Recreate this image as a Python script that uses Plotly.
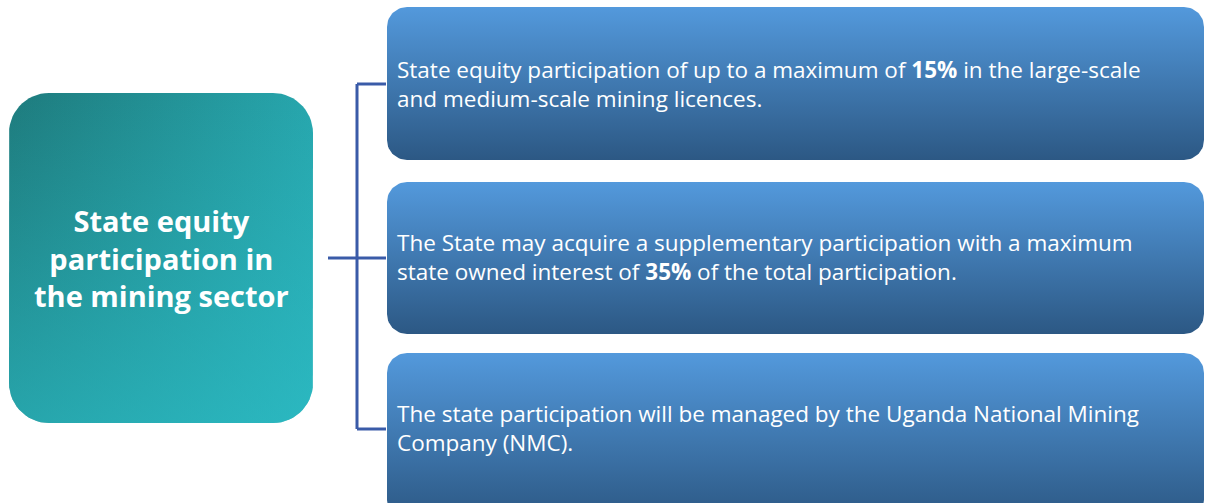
import numpy as np
import plotly.graph_objects as go

# diagram content
title_lines = ["State equity", "participation in", "the mining sector"]
statements = [
    ["State equity participation of up to a maximum of <b>15%</b> in the large-scale",
     "and medium-scale mining licences."],
    ["The State may acquire a supplementary participation with a maximum",
     "state owned interest of <b>35%</b> of the total participation."],
    ["The state participation will be managed by the Uganda National Mining",
     "Company (NMC)."],
]
# right-hand boxes: top / bottom in pixels, and text block centres
box_tops = [7, 182, 353]
box_bottoms = [160, 334, 520]
text_centers = [84, 257, 428]

W, H = 1205, 503


def rounded_rect(x0, y0, x1, y1, r, n=16):
    """Closed outline of a rounded rectangle (y grows downward)."""
    pts = []
    corners = [(x1 - r, y0 + r, -90, 0), (x1 - r, y1 - r, 0, 90),
               (x0 + r, y1 - r, 90, 180), (x0 + r, y0 + r, 180, 270)]
    for cx, cy, a0, a1 in corners:
        t = np.radians(np.linspace(a0, a1, n))
        pts += list(zip(cx + r * np.cos(t), cy + r * np.sin(t)))
    pts.append(pts[0])
    xs, ys = zip(*pts)
    return list(xs), list(ys)


fig = go.Figure()

# left box: diagonal teal gradient = horizontal base + vertical overlay
lx, ly = rounded_rect(9, 93, 313, 423, 40)
fig.add_trace(go.Scatter(
    x=lx, y=ly, fill="toself", mode="lines", line=dict(width=0),
    fillgradient=dict(type="horizontal",
                      colorscale=[[0, "#1e7b7d"], [1, "#27a6ad"]]),
    hoverinfo="skip", showlegend=False,
))
fig.add_trace(go.Scatter(
    x=lx, y=ly, fill="toself", mode="lines", line=dict(width=0),
    fillgradient=dict(type="vertical",
                      colorscale=[[0, "rgba(46,199,209,0.55)"], [1, "rgba(46,199,209,0)"]]),
    hoverinfo="skip", showlegend=False,
))

# right boxes: vertical blue gradient (light at the top)
for top, bottom in zip(box_tops, box_bottoms):
    bx, by = rounded_rect(387, top, 1204, bottom, 20)
    fig.add_trace(go.Scatter(
        x=bx, y=by, fill="toself", mode="lines", line=dict(width=0),
        fillgradient=dict(type="vertical",
                          colorscale=[[0, "#2c5884"], [1, "#5399dc"]]),
        hoverinfo="skip", showlegend=False,
    ))

# bracket connector
conn = dict(color="#3a5ba8", width=3)
mid_y = 258
tick_ys = [84, mid_y, 429]
fig.add_shape(type="line", x0=328, x1=357, y0=mid_y, y1=mid_y, line=conn)
fig.add_shape(type="line", x0=357, x1=357, y0=tick_ys[0], y1=tick_ys[-1], line=conn)
for ty in tick_ys:
    fig.add_shape(type="line", x0=357, x1=386, y0=ty, y1=ty, line=conn)

# title text
fig.add_annotation(
    x=161, y=258, xref="x", yref="y", showarrow=False, yanchor="middle",
    text="<b>" + "<br>".join(title_lines) + "</b>", align="center",
    font=dict(family="Open Sans", size=29, color="white"),
)

# statement text
for lines, cy in zip(statements, text_centers):
    fig.add_annotation(
        x=395, y=cy, xref="x", yref="y", xanchor="left", yanchor="middle",
        showarrow=False, text="<br>".join(lines), align="left",
        font=dict(family="Open Sans", size=22.5, color="white"),
    )

fig.update_xaxes(range=[0, W], visible=False, fixedrange=True)
fig.update_yaxes(range=[H, 0], visible=False, fixedrange=True)
fig.update_layout(
    width=W, height=H, margin=dict(l=0, r=0, t=0, b=0),
    plot_bgcolor="white", paper_bgcolor="white",
)

# drop the default page margin so the figure sits at the window origin
fig.write_html(
    "out.html",
    config={"displayModeBar": False},
    post_script="document.body.style.margin='0px';document.body.style.overflow='hidden';",
)
